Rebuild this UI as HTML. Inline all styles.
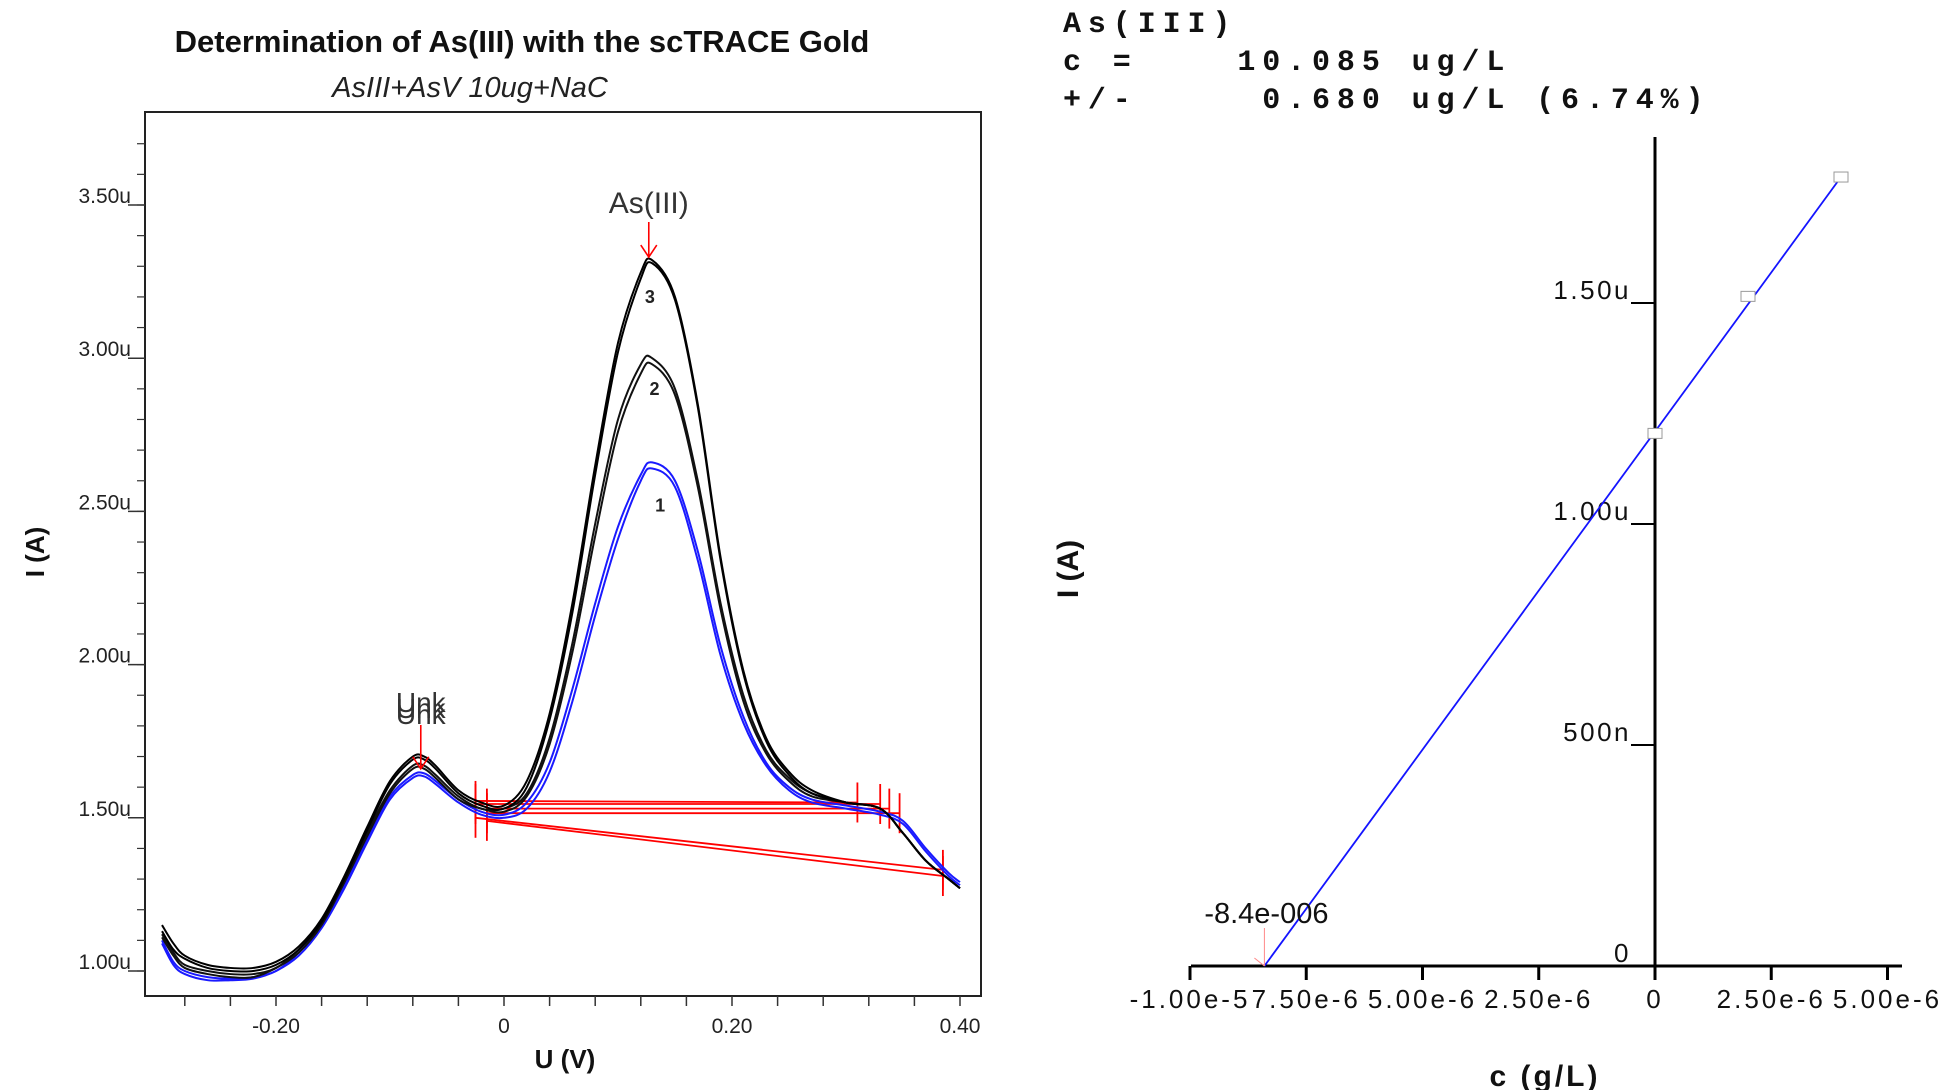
<!DOCTYPE html>
<html><head><meta charset="utf-8">
<style>
html,body{margin:0;padding:0;background:#fff;}
svg{display:block;}
text{font-family:"Liberation Sans",sans-serif;}
text.mono{font-family:"Liberation Mono",monospace;}
</style></head>
<body>
<svg id="chart" width="1951" height="1090" viewBox="0 0 1951 1090" xmlns="http://www.w3.org/2000/svg">
  <text x="522" y="52" text-anchor="middle" font-size="31" font-weight="bold" fill="#111">Determination of As(III) with the scTRACE Gold</text>
  <text x="470" y="97" text-anchor="middle" font-size="29" font-style="italic" fill="#222">AsIII+AsV 10ug+NaC</text>
  <rect x="145" y="112" width="836" height="884" fill="none" stroke="#222" stroke-width="2"/>
  <text transform="translate(44,552) rotate(-90)" text-anchor="middle" font-size="26" font-weight="bold" fill="#111">I (A)</text>
  <text x="565" y="1068" text-anchor="middle" font-size="26" font-weight="bold" fill="#111">U (V)</text>
  <g id="leftAxes"></g>
  <g id="leftBase"></g>
  <g id="leftCurves"></g>
  <g id="leftMarks"></g>

  <text class="mono" x="1063" y="32" font-size="30" font-weight="bold" letter-spacing="6.9" xml:space="preserve" fill="#111">As(III)</text>
  <text class="mono" x="1063" y="70" font-size="30" font-weight="bold" letter-spacing="6.9" xml:space="preserve" fill="#111">c =    10.085 ug/L</text>
  <text class="mono" x="1063" y="108" font-size="30" font-weight="bold" letter-spacing="6.9" xml:space="preserve" fill="#111">+/-     0.680 ug/L (6.74%)</text>
  <text transform="translate(1078,569) rotate(-90)" text-anchor="middle" font-size="30" font-weight="bold" fill="#111">I (A)</text>
  <text x="1545" y="1086" text-anchor="middle" font-size="30" font-weight="bold" letter-spacing="3" fill="#111">c (g/L)</text>
  <g id="rightAxes"></g>
  <g id="rightSeries"></g>
</svg>
<script>
// ---------- Left chart data (voltammograms, current in µA) ----------
const potentials = [-0.30,-0.29,-0.28,-0.26,-0.24,-0.22,-0.20,-0.18,-0.16,-0.14,-0.12,-0.10,-0.08,-0.07,-0.06,-0.04,-0.02,0.00,0.02,0.04,0.06,0.08,0.10,0.12,0.13,0.15,0.17,0.19,0.21,0.23,0.25,0.27,0.30,0.33,0.35,0.37,0.39,0.40];
const curve3a = [1.15,1.09,1.05,1.02,1.01,1.01,1.03,1.08,1.17,1.31,1.47,1.62,1.70,1.70,1.67,1.59,1.55,1.54,1.62,1.84,2.20,2.65,3.05,3.28,3.32,3.20,2.85,2.35,1.98,1.76,1.65,1.59,1.55,1.53,1.45,1.36,1.30,1.27];
const curve3b = [1.13,1.07,1.04,1.01,1.00,1.00,1.02,1.07,1.16,1.30,1.46,1.61,1.69,1.69,1.66,1.58,1.54,1.53,1.60,1.82,2.17,2.62,3.02,3.26,3.31,3.19,2.84,2.34,1.97,1.75,1.64,1.58,1.55,1.53,1.45,1.36,1.30,1.27];
const curve2a = [1.12,1.06,1.02,1.00,0.99,0.99,1.01,1.07,1.16,1.29,1.45,1.59,1.67,1.67,1.64,1.57,1.53,1.53,1.58,1.76,2.07,2.46,2.80,2.98,3.00,2.90,2.60,2.20,1.90,1.72,1.63,1.58,1.55,1.53,1.45,1.36,1.30,1.27];
const curve2b = [1.11,1.05,1.01,0.99,0.98,0.98,1.01,1.06,1.15,1.29,1.44,1.58,1.66,1.66,1.63,1.56,1.53,1.52,1.57,1.74,2.04,2.42,2.76,2.95,2.98,2.88,2.58,2.18,1.88,1.71,1.62,1.57,1.55,1.53,1.45,1.36,1.30,1.27];
const curve1a = [1.10,1.03,1.00,0.98,0.975,0.98,1.00,1.06,1.15,1.28,1.43,1.57,1.64,1.645,1.62,1.56,1.52,1.51,1.55,1.68,1.92,2.20,2.45,2.62,2.66,2.60,2.37,2.06,1.83,1.68,1.60,1.56,1.54,1.52,1.49,1.40,1.32,1.29];
const curve1b = [1.09,1.02,0.99,0.97,0.97,0.975,1.00,1.05,1.14,1.27,1.42,1.56,1.63,1.635,1.61,1.55,1.51,1.50,1.53,1.65,1.88,2.16,2.41,2.60,2.64,2.58,2.34,2.03,1.81,1.67,1.59,1.55,1.53,1.51,1.48,1.39,1.31,1.28];
const baseStartU = [-0.025,-0.025,-0.015,-0.015,-0.025,-0.015];
const baseStartI = [1.555,1.545,1.530,1.515,1.500,1.490];
const baseEndU   = [0.310,0.330,0.338,0.347,0.385,0.385];
const baseEndI   = [1.550,1.545,1.530,1.515,1.330,1.310];
const xTickValues = [-0.28,-0.24,-0.20,-0.16,-0.12,-0.08,-0.04,0,0.04,0.08,0.12,0.16,0.20,0.24,0.28,0.32,0.36,0.40];
const xTickLabels = ["-0.20","0","0.20","0.40"];
const xTickLabelValues = [-0.20,0,0.20,0.40];
const yTickLabels = ["1.00u","1.50u","2.00u","2.50u","3.00u","3.50u"];
const yTickLabelValues = [1.0,1.5,2.0,2.5,3.0,3.5];

// ---------- Right chart data (standard addition) ----------
const addedConc = [0, 2.0e-6, 4.0e-6];
const measuredCurrent = [1.205, 1.515, 1.785];
const interceptConc = -8.4e-6;
const rxTickValues = [-1.0e-5,-7.5e-6,-5.0e-6,-2.5e-6,0,2.5e-6,5.0e-6];
const rxTickLabels = ["-1.00e-5","7.50e-6","5.00e-6","2.50e-6","0","2.50e-6","5.00e-6"];
const ryTickValues = [0,0.5,1.0,1.5];
const ryTickLabels = ["0","500n","1.00u","1.50u"];

const NS="http://www.w3.org/2000/svg";
function mk(tag,parent,attrs){const e=document.createElementNS(NS,tag);for(const k in attrs)e.setAttribute(k,attrs[k]);parent.appendChild(e);return e;}
const xL=v=>504+v*1140;
const yL=u=>971-(u-1)*306.4;
const xR=c=>1655+c*46.5e6;
const yR=i=>966-i*442;

// left axes
const la=document.getElementById('leftAxes');
xTickValues.forEach(v=>{
  const t=mk('line',la,{x1:xL(v),x2:xL(v),y1:996,y2:1006,stroke:'#333','stroke-width':1.5});
  
  
});
xTickLabels.forEach((s,i)=>{
  const t=mk('text',la,{x:xL(xTickLabelValues[i]),y:1033,'text-anchor':'middle','font-size':21,fill:'#222'});
  t.textContent=s;
  
  
});
for(let u=1.0;u<=3.71;u+=0.1){
  const t=mk('line',la,{x1:137,x2:145,y1:yL(u),y2:yL(u),stroke:'#333','stroke-width':1.2});
  
  
}
yTickLabels.forEach((s,i)=>{
  const y=yL(yTickLabelValues[i]);
  const l=mk('line',la,{x1:128,x2:145,y1:y,y2:y,stroke:'#333','stroke-width':1.5});
  
  
  const t=mk('text',la,{x:131,y:y-2,'text-anchor':'end','font-size':21,fill:'#222'});
  t.textContent=s;
  
  
});

// baselines
const lb=document.getElementById('leftBase');
baseStartU.forEach((u0,i)=>{
  const l=mk('line',lb,{x1:xL(u0),y1:yL(baseStartI[i]),x2:xL(baseEndU[i]),y2:yL(baseEndI[i]),stroke:'#f00','stroke-width':1.8});
  
  
  [[u0,baseStartI[i]],[baseEndU[i],baseEndI[i]]].forEach(p=>{
    const tk=mk('line',lb,{x1:xL(p[0]),x2:xL(p[0]),y1:yL(p[1])-20,y2:yL(p[1])+20,stroke:'#f00','stroke-width':1.8});
    
    
  });
});

// curves
function pathFrom(xs,ys){
  const P=xs.map((x,i)=>[xL(x),yL(ys[i])]);
  let d='M'+P[0][0]+','+P[0][1];
  for(let i=0;i<P.length-1;i++){
    const p0=P[Math.max(0,i-1)],p1=P[i],p2=P[i+1],p3=P[Math.min(P.length-1,i+2)];
    const c1=[p1[0]+(p2[0]-p0[0])/6,p1[1]+(p2[1]-p0[1])/6];
    const c2=[p2[0]-(p3[0]-p1[0])/6,p2[1]-(p3[1]-p1[1])/6];
    d+=' C'+c1[0]+','+c1[1]+' '+c2[0]+','+c2[1]+' '+p2[0]+','+p2[1];
  }
  return d;
}
const lc=document.getElementById('leftCurves');
[[curve1a,'#1a1aff','curve-1a'],[curve1b,'#1a1aff','curve-1b'],[curve2a,'#111','curve-2a'],[curve2b,'#111','curve-2b'],[curve3a,'#000','curve-3a'],[curve3b,'#000','curve-3b']].forEach(c=>{
  const p=mk('path',lc,{d:pathFrom(potentials,c[0]),fill:'none',stroke:c[1],'stroke-width':2});
  
  
});

// marks
const lm=document.getElementById('leftMarks');
function num(label,u,i,name){
  const t=mk('text',lm,{x:xL(u),y:yL(i),'text-anchor':'middle','font-size':18,'font-weight':'bold',fill:'#222'});
  t.textContent=label;
  
  
}
num('3',0.128,3.18,'curve-label-3');
num('2',0.132,2.88,'curve-label-2');
num('1',0.137,2.5,'curve-label-1');
const asl=mk('text',lm,{x:xL(0.127),y:213,'text-anchor':'middle','font-size':30,fill:'#333'});
asl.textContent='As(III)';


const ar=mk('path',lm,{d:`M${xL(0.127)},222 V${yL(3.33)} M${xL(0.127)-8},${yL(3.33)-12} L${xL(0.127)},${yL(3.33)} L${xL(0.127)+8},${yL(3.33)-12}`,stroke:'#f00','stroke-width':1.6,fill:'none'});


[0,6,12].forEach(dy=>{
  const t=mk('text',lm,{x:xL(-0.073),y:712+dy,'text-anchor':'middle','font-size':28,fill:'#333'});
  t.textContent='Unk';
  
  
});
const ua=mk('path',lm,{d:`M${xL(-0.073)},725 V${yL(1.66)} M${xL(-0.073)-8},${yL(1.66)-12} L${xL(-0.073)},${yL(1.66)} L${xL(-0.073)+8},${yL(1.66)-12}`,stroke:'#f00','stroke-width':1.6,fill:'none'});



// right axes
const ra=document.getElementById('rightAxes');
const vax=mk('line',ra,{x1:xR(0),x2:xR(0),y1:137,y2:966,stroke:'#000','stroke-width':3});


const hax=mk('line',ra,{x1:1191,x2:1902,y1:966,y2:966,stroke:'#000','stroke-width':3});


rxTickValues.forEach((v,i)=>{
  const l=mk('line',ra,{x1:xR(v),x2:xR(v),y1:966,y2:980,stroke:'#000','stroke-width':3});
  
  
  const t=mk('text',ra,{x:xR(v),y:1008,'text-anchor':'middle','font-size':26,'letter-spacing':3,fill:'#111'});
  t.textContent=rxTickLabels[i];
  
  
});
ryTickValues.forEach((v,i)=>{
  const y=yR(v);
  if(v>0){
    const l=mk('line',ra,{x1:xR(0)-24,x2:xR(0),y1:y,y2:y,stroke:'#000','stroke-width':2});
    
    
  }
  const t=mk('text',ra,{x:xR(0)-24,y:y-4,'text-anchor':'end','font-size':26,'letter-spacing':2.5,fill:'#111'});
  t.textContent=ryTickLabels[i];
  
  
});

// right series
const rs=document.getElementById('rightSeries');
const slope=(measuredCurrent[2]-0)/(addedConc[2]-interceptConc);
const fit=mk('line',rs,{x1:xR(interceptConc),y1:yR(0),x2:xR(addedConc[2]),y2:yR(slope*(addedConc[2]-interceptConc)),stroke:'#1414ff','stroke-width':1.8});


addedConc.forEach((c,i)=>{
  const r=mk('rect',rs,{x:xR(c)-7,y:yR(measuredCurrent[i])-5,width:14,height:10,fill:'#fff',stroke:'#999','stroke-width':1});
  
  
});
const ia=mk('path',rs,{d:`M${xR(interceptConc)},928 V${yR(0)} M${xR(interceptConc)-10},${yR(0)-8} L${xR(interceptConc)},${yR(0)}`,stroke:'#f88','stroke-width':1,fill:'none'});


const il=mk('text',rs,{x:xR(interceptConc)+2,y:923,'text-anchor':'middle','font-size':29,fill:'#111'});
il.textContent='-8.4e-006';


</script>
</body></html>
